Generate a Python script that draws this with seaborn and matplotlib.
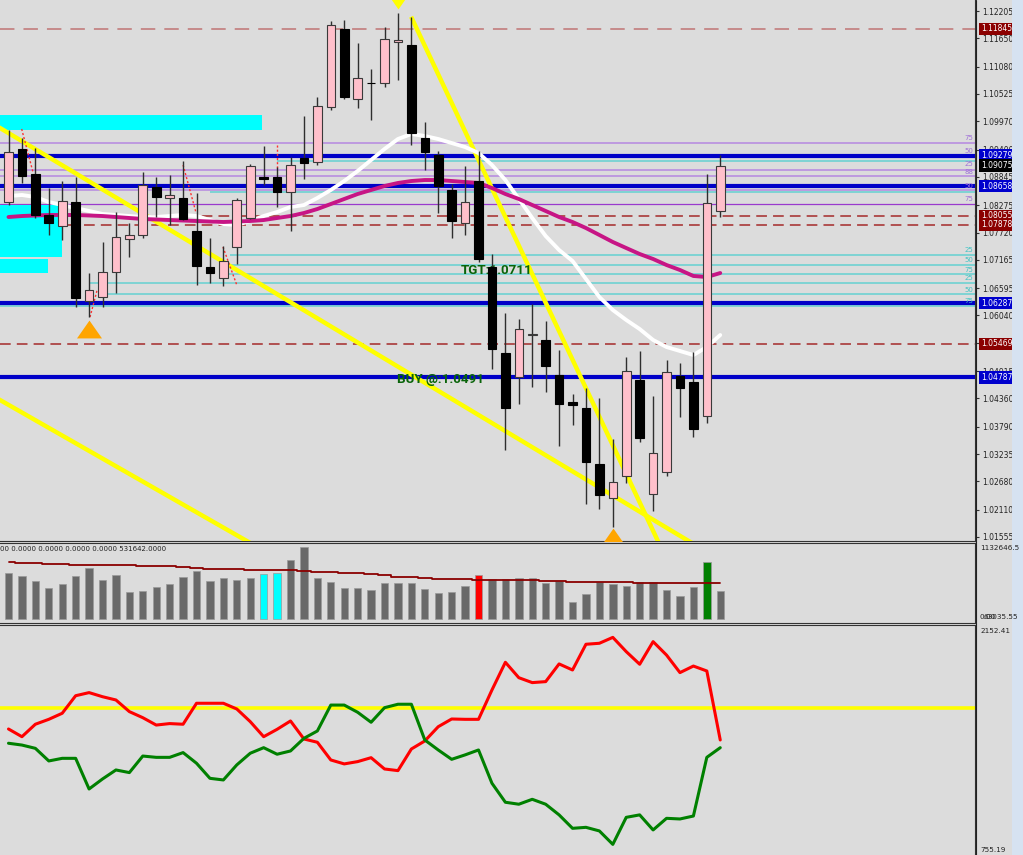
import numpy as np
import pandas as pd
import matplotlib
matplotlib.use("Agg")
import matplotlib.pyplot as plt
import matplotlib.transforms as mtransforms
from matplotlib.patches import Rectangle
from matplotlib.lines import Line2D
import seaborn as sns

sns.set_theme(style="white")
plt.rcParams["font.family"] = ["DejaVu Sans"]

# ---------------- data ----------------
opens = [1.08344, 1.09411, 1.08905, 1.08075, 1.07852, 1.08344, 1.06333, 1.06414, 1.06921, 1.07589,
         1.07670, 1.08642, 1.08419, 1.08419, 1.07751, 1.07022, 1.06799, 1.07427, 1.08014, 1.08844,
         1.08844, 1.08540, 1.09229, 1.09148, 1.10261, 1.11841, 1.10423, 1.10747, 1.10747, 1.11577,
         1.11517, 1.09634, 1.09289, 1.08581, 1.07913, 1.08763, 1.07022, 1.05280, 1.04795, 1.05645,
         1.05544, 1.04835, 1.04295, 1.04167, 1.03033, 1.02345, 1.02790, 1.04734, 1.02426, 1.02871,
         1.04815, 1.04693, 1.04005, 1.08156]
highs = [1.09796, 1.09634, 1.09431, 1.08621, 1.08763, 1.08844, 1.06900, 1.07528, 1.08135, 1.07913,
         1.08945, 1.08844, 1.08884, 1.09168, 1.08520, 1.07609, 1.07447, 1.08419, 1.09107, 1.09472,
         1.09047, 1.09249, 1.10079, 1.10464, 1.12003, 1.12023, 1.11557, 1.11031, 1.11881, 1.12165,
         1.12084, 1.09958, 1.09370, 1.08702, 1.09067, 1.09370, 1.07285, 1.06090, 1.05969, 1.06273,
         1.05928, 1.05341, 1.04450, 1.04572, 1.04369, 1.03539, 1.05200, 1.05321, 1.04410, 1.05139,
         1.05078, 1.05301, 1.08905, 1.09289]
lows = [1.08277, 1.08723, 1.08014, 1.07670, 1.07568, 1.06212, 1.06009, 1.06212, 1.06495, 1.07224,
        1.07609, 1.08034, 1.07872, 1.07973, 1.06657, 1.06698, 1.06637, 1.07082, 1.08000, 1.08682,
        1.08237, 1.07751, 1.08803, 1.09087, 1.10201, 1.10423, 1.10241, 1.09998, 1.10666, 1.10808,
        1.09492, 1.08986, 1.08115, 1.07609, 1.07670, 1.07123, 1.04957, 1.03317, 1.04248, 1.04592,
        1.04491, 1.03398, 1.03823, 1.02223, 1.02122, 1.01758, 1.02648, 1.03479, 1.02082, 1.02790,
        1.03985, 1.03580, 1.03863, 1.08034]
closes = [1.09356, 1.08864, 1.08075, 1.07913, 1.08358, 1.06388, 1.06556, 1.06921, 1.07629, 1.07670,
          1.08682, 1.08439, 1.08480, 1.07994, 1.07042, 1.06900, 1.07143, 1.08378, 1.09067, 1.08803,
          1.08540, 1.09087, 1.09127, 1.10282, 1.11922, 1.10464, 1.10848, 1.10747, 1.11638, 1.11618,
          1.09735, 1.09350, 1.08662, 1.07953, 1.08338, 1.07184, 1.05362, 1.04167, 1.05766, 1.05665,
          1.05017, 1.04248, 1.04228, 1.03074, 1.02405, 1.02669, 1.04916, 1.03560, 1.03256, 1.04896,
          1.04572, 1.03742, 1.08318, 1.09075]

ma_fast = [1.08459, 1.08480, 1.08439, 1.08338, 1.08277, 1.08216, 1.08156, 1.08095, 1.08075, 1.08054,
           1.08034, 1.08034, 1.08054, 1.08075, 1.08054, 1.07973, 1.07892, 1.07872, 1.07953, 1.08054,
           1.08135, 1.08237, 1.08277, 1.08419, 1.08581, 1.08763, 1.08966, 1.09188, 1.09411, 1.09613,
           1.09715, 1.09674, 1.09613, 1.09532, 1.09451, 1.09330, 1.09087, 1.08783, 1.08399, 1.08014,
           1.07649, 1.07366, 1.07143, 1.06779, 1.06414, 1.06151, 1.05949, 1.05766, 1.05544, 1.05402,
           1.05321, 1.05240, 1.05402, 1.05645]
ma_slow = [1.08034, 1.08054, 1.08065, 1.08075, 1.08075, 1.08075, 1.08065, 1.08054, 1.08034, 1.08014,
           1.07994, 1.07984, 1.07973, 1.07963, 1.07953, 1.07943, 1.07933, 1.07943, 1.07953, 1.07973,
           1.08014, 1.08054, 1.08115, 1.08196, 1.08297, 1.08399, 1.08500, 1.08581, 1.08662, 1.08723,
           1.08763, 1.08783, 1.08783, 1.08763, 1.08743, 1.08723, 1.08621, 1.08500, 1.08399, 1.08277,
           1.08156, 1.08034, 1.07933, 1.07811, 1.07670, 1.07528, 1.07406, 1.07285, 1.07184, 1.07062,
           1.06961, 1.06840, 1.06819, 1.06900]

volumes = [681, 641, 566, 466, 517, 641, 764, 581, 656, 407,
           417, 477, 517, 626, 715, 566, 615, 581, 615, 666,
           690, 879, 1077, 606, 556, 466, 457, 432, 532, 532,
           532, 443, 392, 407, 492, 656, 592, 592, 606, 606,
           532, 571, 258, 368, 556, 517, 492, 556, 556, 432,
           343, 481, 854, 417]
volume_ma = [845, 830, 830, 824, 815, 809, 809, 809, 809, 805,
             794, 790, 785, 770, 764, 749, 749, 745, 730, 730,
             730, 726, 720, 705, 700, 681, 681, 670, 651, 630,
             621, 606, 600, 596, 592, 586, 586, 586, 586, 586,
             566, 566, 556, 556, 556, 556, 547, 541, 541, 541,
             532, 532, 532, 531.642]
volume_flags = {19: "cyan", 20: "cyan", 35: "red", 52: "green"}

osc_red = [1524, 1477, 1553, 1583, 1620, 1727, 1746, 1721, 1701, 1630,
           1593, 1548, 1557, 1553, 1681, 1681, 1681, 1646, 1569, 1477,
           1522, 1573, 1463, 1443, 1335, 1311, 1325, 1349, 1280, 1270,
           1402, 1451, 1538, 1585, 1583, 1583, 1762, 1931, 1837, 1807,
           1813, 1921, 1884, 2041, 2047, 2083, 1996, 1919, 2057, 1975,
           1868, 1908, 1878, 1457]
osc_green = [1437, 1426, 1406, 1329, 1345, 1345, 1158, 1219, 1274, 1258,
             1359, 1351, 1351, 1380, 1315, 1223, 1213, 1305, 1376, 1410,
             1370, 1390, 1467, 1512, 1670, 1670, 1626, 1565, 1654, 1675,
             1675, 1457, 1396, 1339, 1366, 1396, 1193, 1077, 1065, 1095,
             1065, 1000, 918, 924, 902, 820, 985, 1000, 908, 979,
             975, 993, 1351, 1410]
osc_level = 1654

price_ticks = [1.12205, 1.11650, 1.11080, 1.10525, 1.09970, 1.09400, 1.08845, 1.08275, 1.07720,
               1.07165, 1.06595, 1.06040, 1.05480, 1.04915, 1.04360, 1.03790, 1.03235, 1.02680,
               1.02110, 1.01555]

blue_levels = [1.09279, 1.08658, 1.06287, 1.04787]
red_levels = [1.08055, 1.07878, 1.05469]
top_level = 1.11845
lavender_levels = [1.09539, 1.08986, 1.08870, 1.08581]
violet_level = 1.08291
cyan_levels = [1.09178, 1.08550, 1.07265, 1.07072, 1.06880, 1.06698, 1.06475, 1.06232]
cyan_starts = [20, 15, 16.5, 16.5, 16.3, 6, 7.3, -1]

price_tags = [(1.11845, "#8b0000"), (1.09279, "#0000cd"), (1.09075, "#000000"),
              (1.08658, "#0000cd"), (1.08055, "#8b0000"), (1.07878, "#8b0000"),
              (1.06287, "#0000cd"), (1.05469, "#8b0000"), (1.04787, "#0000cd")]

fib_upper = [("75", 1.09640), ("50", 1.09376), ("25", 1.09107), ("88", 1.08955),
             ("50", 1.08668), ("75", 1.08398)]
fib_lower = [("25", 1.07366), ("50", 1.07163), ("75", 1.06961), ("25", 1.06805),
             ("50", 1.06556), ("75", 1.06339)]

# zones: (start bar, end bar, low, high)
zones = [(-1, 18.88, 1.09796, 1.10099), (-1, 3.98, 1.07224, 1.08277), (-1, 2.94, 1.06900, 1.07184)]
# trend lines: two anchors (bar, price)
trend_lines = [((-1, 1.09897), (53, 1.01090)),
               ((-1, 1.04386), (20.22, 1.01090)),
               ((29.98, 1.12090), (49.02, 1.01090))]
# zigzag dotted legs: (bar, price) -> (bar, price)
zigzag = [((0.98, 1.09816), (1.82, 1.08945)),
          ((6.07, 1.06009), (6.6, 1.06556)),
          ((13.0, 1.09087), (13.97, 1.08115)),
          ((15.97, 1.07427), (17.0, 1.06657)),
          ((20.0, 1.09492), (20.0, 1.09027))]
# arrows: (bar, price)
buy_arrows = [(6, 1.05766), (45, 1.01565)]
sell_arrows = [(29, 1.12347)]

notes = [("TGT:1.0711", 33.7, 1.06941), ("BUY @:1.0491", 28.93, 1.04734)]

# ---------------- figure ----------------
BG = "#dcdcdc"
W, H = 1023, 855
fig = plt.figure(figsize=(W / 100, H / 100), dpi=100, facecolor=BG)


def place(x0, y0, x1, y1):
    return [x0 / W, 1 - y1 / H, (x1 - x0) / W, (y1 - y0) / H]


ax = fig.add_axes(place(0, 0, 975, 541))
axv = fig.add_axes(place(0, 543, 975, 623))
axo = fig.add_axes(place(0, 625, 975, 855))

n = len(closes)
bars = np.arange(n)
o = np.array(opens)
c = np.array(closes)
hi = np.array(highs)
lo = np.array(lows)

# level lines
ax.axhline(top_level, color="#c48484", lw=1.3, dashes=(8, 5), zorder=2)
for p in red_levels:
    ax.axhline(p, color="#a42a2a", lw=1.1, dashes=(7, 4), zorder=2)
for p in lavender_levels:
    ax.axhline(p, color="#b88ee0", lw=1.2, zorder=2)
ax.axhline(violet_level, color="#9a3acd", lw=0.9, zorder=2)
for p, s in zip(cyan_levels, cyan_starts):
    ax.hlines(p, s, 80, color="#6ed2d2", lw=1.2, zorder=2)
for p in blue_levels:
    ax.axhline(p, color="#0000c8", lw=3.0, zorder=3)

trans = mtransforms.blended_transform_factory(ax.transAxes, ax.transData)
for s, p in fib_upper:
    ax.text(0.998, p, s, transform=trans, ha="right", va="center", fontsize=5,
            color="#a070d8", zorder=3)
for s, p in fib_lower:
    ax.text(0.998, p, s, transform=trans, ha="right", va="center", fontsize=5,
            color="#40c4c4", zorder=3)

for x0, x1, p0, p1 in zones:
    ax.add_patch(Rectangle((x0, p0), x1 - x0, p1 - p0, facecolor="#00ffff",
                           edgecolor="none", zorder=3))

for (xa, ya), (xb, yb) in trend_lines:
    ax.plot([xa, xb], [ya, yb], color="#ffff00", lw=3.2, solid_capstyle="butt", zorder=4)

for (xa, ya), (xb, yb) in zigzag:
    ax.plot([xa, xb], [ya, yb], color="#ff3030", lw=1.0, ls=(0, (1.5, 1.5)), zorder=4)

sns.lineplot(x=bars, y=ma_fast, ax=ax, color="white", lw=2.8, estimator=None, sort=False, zorder=5)
sns.lineplot(x=bars, y=ma_slow, ax=ax, color="#c71585", lw=2.8, estimator=None, sort=False, zorder=5)

for s, xb, p in notes:
    ax.text(xb, p, s, ha="left", va="center", fontsize=9.6, fontweight="bold",
            family=["Roboto", "DejaVu Sans"], color="#0a640a", zorder=6)

# candles
up = c > o
body_lo = np.minimum(o, c)
body_h = np.maximum(np.abs(c - o), 0.00005)
ax.vlines(bars, lo, hi, color="#2e2e2e", lw=1.0, zorder=7)
ax.bar(bars[up], body_h[up], bottom=body_lo[up], width=0.64, color="#ffc0cb",
       edgecolor="#3a3a3a", linewidth=0.8, zorder=8)
ax.bar(bars[~up], body_h[~up], bottom=body_lo[~up], width=0.64, color="black",
       edgecolor="black", linewidth=0.8, zorder=8)

tri_up = [(-1.4, -1), (1.4, -1), (0, 1)]
tri_dn = [(-1.4, 1), (1.4, 1), (0, -1)]
for xb, p in buy_arrows:
    ax.plot(xb, p, marker=tri_up, ms=18, color="#ffa500", mec="none", zorder=9)
for xb, p in sell_arrows:
    ax.plot(xb, p, marker=tri_dn, ms=10, color="#ffff00", mec="none", zorder=9)

# volume panel
vol_df = pd.DataFrame({"bar": bars, "volume": np.array(volumes) * 1000.0,
                       "kind": [volume_flags.get(i, "normal") for i in bars]})
sns.barplot(data=vol_df, x="bar", y="volume", hue="kind", native_scale=True, width=0.55,
            palette={"normal": "#696969", "cyan": "#00ffff", "red": "#ff0000", "green": "#008000"},
            saturation=1, legend=False, edgecolor="#9a9a9a", linewidth=0.5, ax=axv, zorder=3)
sns.lineplot(x=bars, y=np.array(volume_ma) * 1000.0, ax=axv, color="#8b0000", lw=1.3,
             estimator=None, sort=False, drawstyle="steps-mid", zorder=4)
axv.text(0.0, 0.925, "00 0.0000 0.0000 0.0000 0.0000 531642.0000", transform=axv.transAxes,
         ha="left", va="center", fontsize=5, color="#222222")

# oscillator panel
axo.axhline(osc_level, color="#ffff00", lw=2.6, zorder=2)
sns.lineplot(x=bars, y=osc_red, ax=axo, color="#ff0000", lw=2.2, estimator=None, sort=False, zorder=3)
sns.lineplot(x=bars, y=osc_green, ax=axo, color="#008000", lw=2.2, estimator=None, sort=False, zorder=3)

# axes styling
for a in (ax, axv, axo):
    a.set_facecolor(BG)
    a.set_xlim(-0.633, 71.97)
    a.set_xticks([])
    a.set_xlabel("")
    a.set_ylabel("")
    for sp in a.spines.values():
        sp.set_color("#333333")
        sp.set_linewidth(0.8)
    a.spines["left"].set_visible(False)
ax.spines["top"].set_visible(False)
axo.spines["bottom"].set_visible(False)

ax.set_ylim(1.01474, 1.12428)
axv.set_ylim(-59600, 1132646.5)
axo.set_ylim(755.19, 2158.5)
axv.set_yticks([])
axo.set_yticks([])

ax.yaxis.tick_right()
ax.set_yticks(price_ticks)
ax.set_yticklabels([f"{t:.5f}" for t in price_ticks])
ax.tick_params(axis="y", direction="out", length=3, width=0.8, color="#333333",
               labelsize=5.5, labelcolor="#222222", pad=2.5, right=True, left=False)

for p, col in price_tags:
    ax.text(1.0062, p, f"{p:.5f}", transform=trans, ha="left", va="center", fontsize=5.5,
            color="white", clip_on=False, zorder=20,
            bbox=dict(boxstyle="square,pad=0.22", fc=col, ec="none"))

fig.text(980 / W, 1 - 548 / H, "1132646.5", ha="left", va="center", fontsize=5.2, color="#222222")
fig.text(980 / W, 1 - 617 / H, "0.00", ha="left", va="center", fontsize=5.2, color="#222222")
fig.text(984 / W, 1 - 617 / H, "63035.55", ha="left", va="center", fontsize=5.2, color="#222222")
fig.text(980 / W, 1 - 631 / H, "2152.41", ha="left", va="center", fontsize=5.2, color="#222222")
fig.text(980 / W, 1 - 850 / H, "755.19", ha="left", va="center", fontsize=5.2, color="#222222")

fig.add_artist(Line2D([975.5 / W] * 2, [0, 1], color="#222222", lw=0.8))
fig.patches.append(Rectangle((1012 / W, 0), 11 / W, 1, transform=fig.transFigure,
                             facecolor="#d6e2f1", edgecolor="none"))

fig.savefig("out.png", dpi=100, facecolor=BG)
